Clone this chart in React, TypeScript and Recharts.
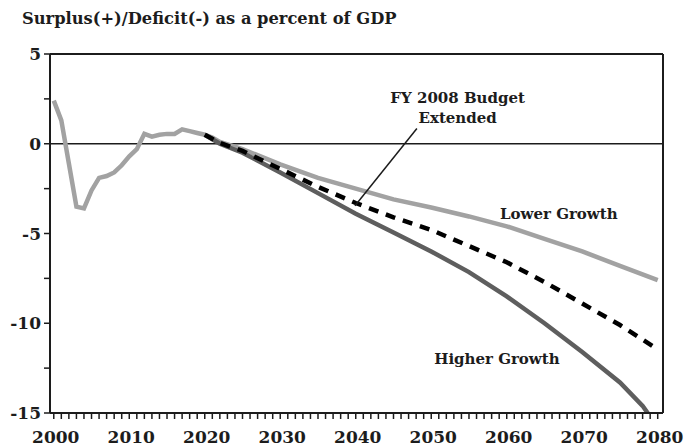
import {
  LineChart,
  Line,
  XAxis,
  YAxis,
  ReferenceLine,
  ReferenceDot,
} from 'recharts';

// Lower Growth path (light grey), annual until 2022 then 5-year points
const lowerYears = [
  2000, 2001, 2002, 2003, 2004, 2005, 2006, 2007, 2008, 2009, 2010, 2011,
  2012, 2013, 2014, 2015, 2016, 2017, 2018, 2019, 2020, 2021, 2022, 2025,
  2030, 2035, 2040, 2045, 2050, 2055, 2060, 2065, 2070, 2075, 2080,
];
const lowerValues = [
  2.4, 1.3, -1.1, -3.5, -3.6, -2.6, -1.9, -1.8, -1.6, -1.2, -0.7, -0.3,
  0.55, 0.4, 0.5, 0.55, 0.55, 0.8, 0.7, 0.6, 0.5, 0.35, 0.1, -0.3,
  -1.15, -1.9, -2.5, -3.1, -3.55, -4.05, -4.6, -5.3, -6.0, -6.8, -7.6,
];

// FY 2008 Budget Extended (black dashes)
const budgetYears = [2020, 2022, 2025, 2030, 2035, 2040, 2045, 2050, 2055, 2060, 2065, 2070, 2075, 2080];
const budgetValues = [0.5, 0.05, -0.4, -1.4, -2.4, -3.3, -4.1, -4.8, -5.7, -6.6, -7.7, -8.9, -10.1, -11.45];

// Higher Growth (dark grey)
const higherYears = [2020, 2022, 2025, 2030, 2035, 2040, 2045, 2050, 2055, 2060, 2065, 2070, 2075, 2078, 2079];
const higherValues = [0.5, 0.0, -0.5, -1.6, -2.75, -3.9, -4.95, -6.0, -7.15, -8.5, -10.0, -11.6, -13.3, -14.6, -15.2];

const xTicks = Array.from({ length: 81 }, (_, i) => 2000 + i);
const yTicks = [5, 2.5, 0, -2.5, -5, -7.5, -10, -12.5, -15];

const toRows = (years: number[], values: number[]) =>
  years.map((year, i) => ({ year, value: values[i] }));

const lowerData = toRows(lowerYears, lowerValues);
const budgetData = toRows(budgetYears, budgetValues);
const higherData = toRows(higherYears, higherValues);

const FONT = '"DejaVu Serif", serif';
const INK = '#1c1c1c';

const labelStyle = {
  position: 'center' as const,
  fill: INK,
  fontSize: 15,
  fontWeight: 'bold',
  fontFamily: FONT,
};

// year ticks hang below the axis, only decades get a label
const YearTick = (props: any) => {
  const { x, y, payload } = props;
  const v = payload.value as number;
  return (
    <g>
      <line x1={x} x2={x} y1={y} y2={y + 6} stroke={INK} strokeWidth={1.5} />
      {v % 10 === 0 && (
        <text
          x={x + 2}
          y={y + 30}
          textAnchor="middle"
          fill={INK}
          fontSize={17}
          fontWeight="bold"
          fontFamily={FONT}
        >
          {v}
        </text>
      )}
    </g>
  );
};

const ValueTick = (props: any) => {
  const { x, y, payload } = props;
  const v = payload.value as number;
  return (
    <g>
      <line x1={x - 6} x2={x} y1={y} y2={y} stroke={INK} strokeWidth={1.5} />
      {v % 5 === 0 && (
        <text
          x={x - 9}
          y={y + 6}
          textAnchor="end"
          fill={INK}
          fontSize={17}
          fontWeight="bold"
          fontFamily={FONT}
        >
          {v}
        </text>
      )}
    </g>
  );
};

const App = () => {
  return (
    <div
      style={{
        position: 'absolute',
        left: 0,
        top: 0,
        width: 685,
        height: 447,
        background: '#fff',
      }}
    >
      <div
        style={{
          position: 'absolute',
          left: 22,
          top: 9,
          fontFamily: FONT,
          fontWeight: 'bold',
          fontSize: 16.3,
          color: INK,
          whiteSpace: 'nowrap',
        }}
      >
        Surplus(+)/Deficit(-) as a percent of GDP
      </div>
      <LineChart
        width={685}
        height={447}
        margin={{ top: 54, right: 22, bottom: 0, left: 0 }}
      >
        <XAxis
          dataKey="year"
          type="number"
          domain={[1999.5, 2080.7]}
          ticks={xTicks}
          interval={0}
          allowDuplicatedCategory={false}
          tickSize={0}
          tickMargin={0}
          tickLine={false}
          height={34}
          axisLine={{ stroke: INK, strokeWidth: 2 }}
          tick={<YearTick />}
        />
        <YAxis
          type="number"
          domain={[-15, 5]}
          ticks={yTicks}
          interval={0}
          allowDataOverflow
          tickSize={0}
          tickMargin={0}
          tickLine={false}
          width={50}
          axisLine={{ stroke: INK, strokeWidth: 2 }}
          tick={<ValueTick />}
        />
        <ReferenceLine y={5} stroke={INK} strokeWidth={2} />
        <ReferenceLine x={2080.7} stroke={INK} strokeWidth={2} />
        <ReferenceLine y={0} stroke={INK} strokeWidth={1.5} />

        <Line
          data={lowerData}
          dataKey="value"
          stroke="#a2a2a2"
          strokeWidth={4.5}
          dot={false}
          isAnimationActive={false}
        />
        <Line
          data={higherData}
          dataKey="value"
          stroke="#5e5e5e"
          strokeWidth={4.5}
          dot={false}
          isAnimationActive={false}
        />
        <Line
          data={budgetData}
          dataKey="value"
          stroke="#000"
          strokeWidth={4.5}
          strokeDasharray="10 8"
          dot={false}
          isAnimationActive={false}
        />

        <ReferenceLine
          segment={[
            { x: 2048.1, y: 0.85 },
            { x: 2039.9, y: -3.45 },
          ]}
          stroke={INK}
          strokeWidth={1.5}
        />
        <ReferenceDot x={2053.5} y={2.57} r={0} fill="none" stroke="none" label={{ ...labelStyle, value: 'FY 2008 Budget' }} />
        <ReferenceDot x={2053.5} y={1.45} r={0} fill="none" stroke="none" label={{ ...labelStyle, value: 'Extended' }} />
        <ReferenceDot x={2066.9} y={-3.9} r={0} fill="none" stroke="none" label={{ ...labelStyle, value: 'Lower Growth' }} />
        <ReferenceDot x={2058.7} y={-11.95} r={0} fill="none" stroke="none" label={{ ...labelStyle, value: 'Higher Growth' }} />
      </LineChart>
    </div>
  );
};

export default App;
